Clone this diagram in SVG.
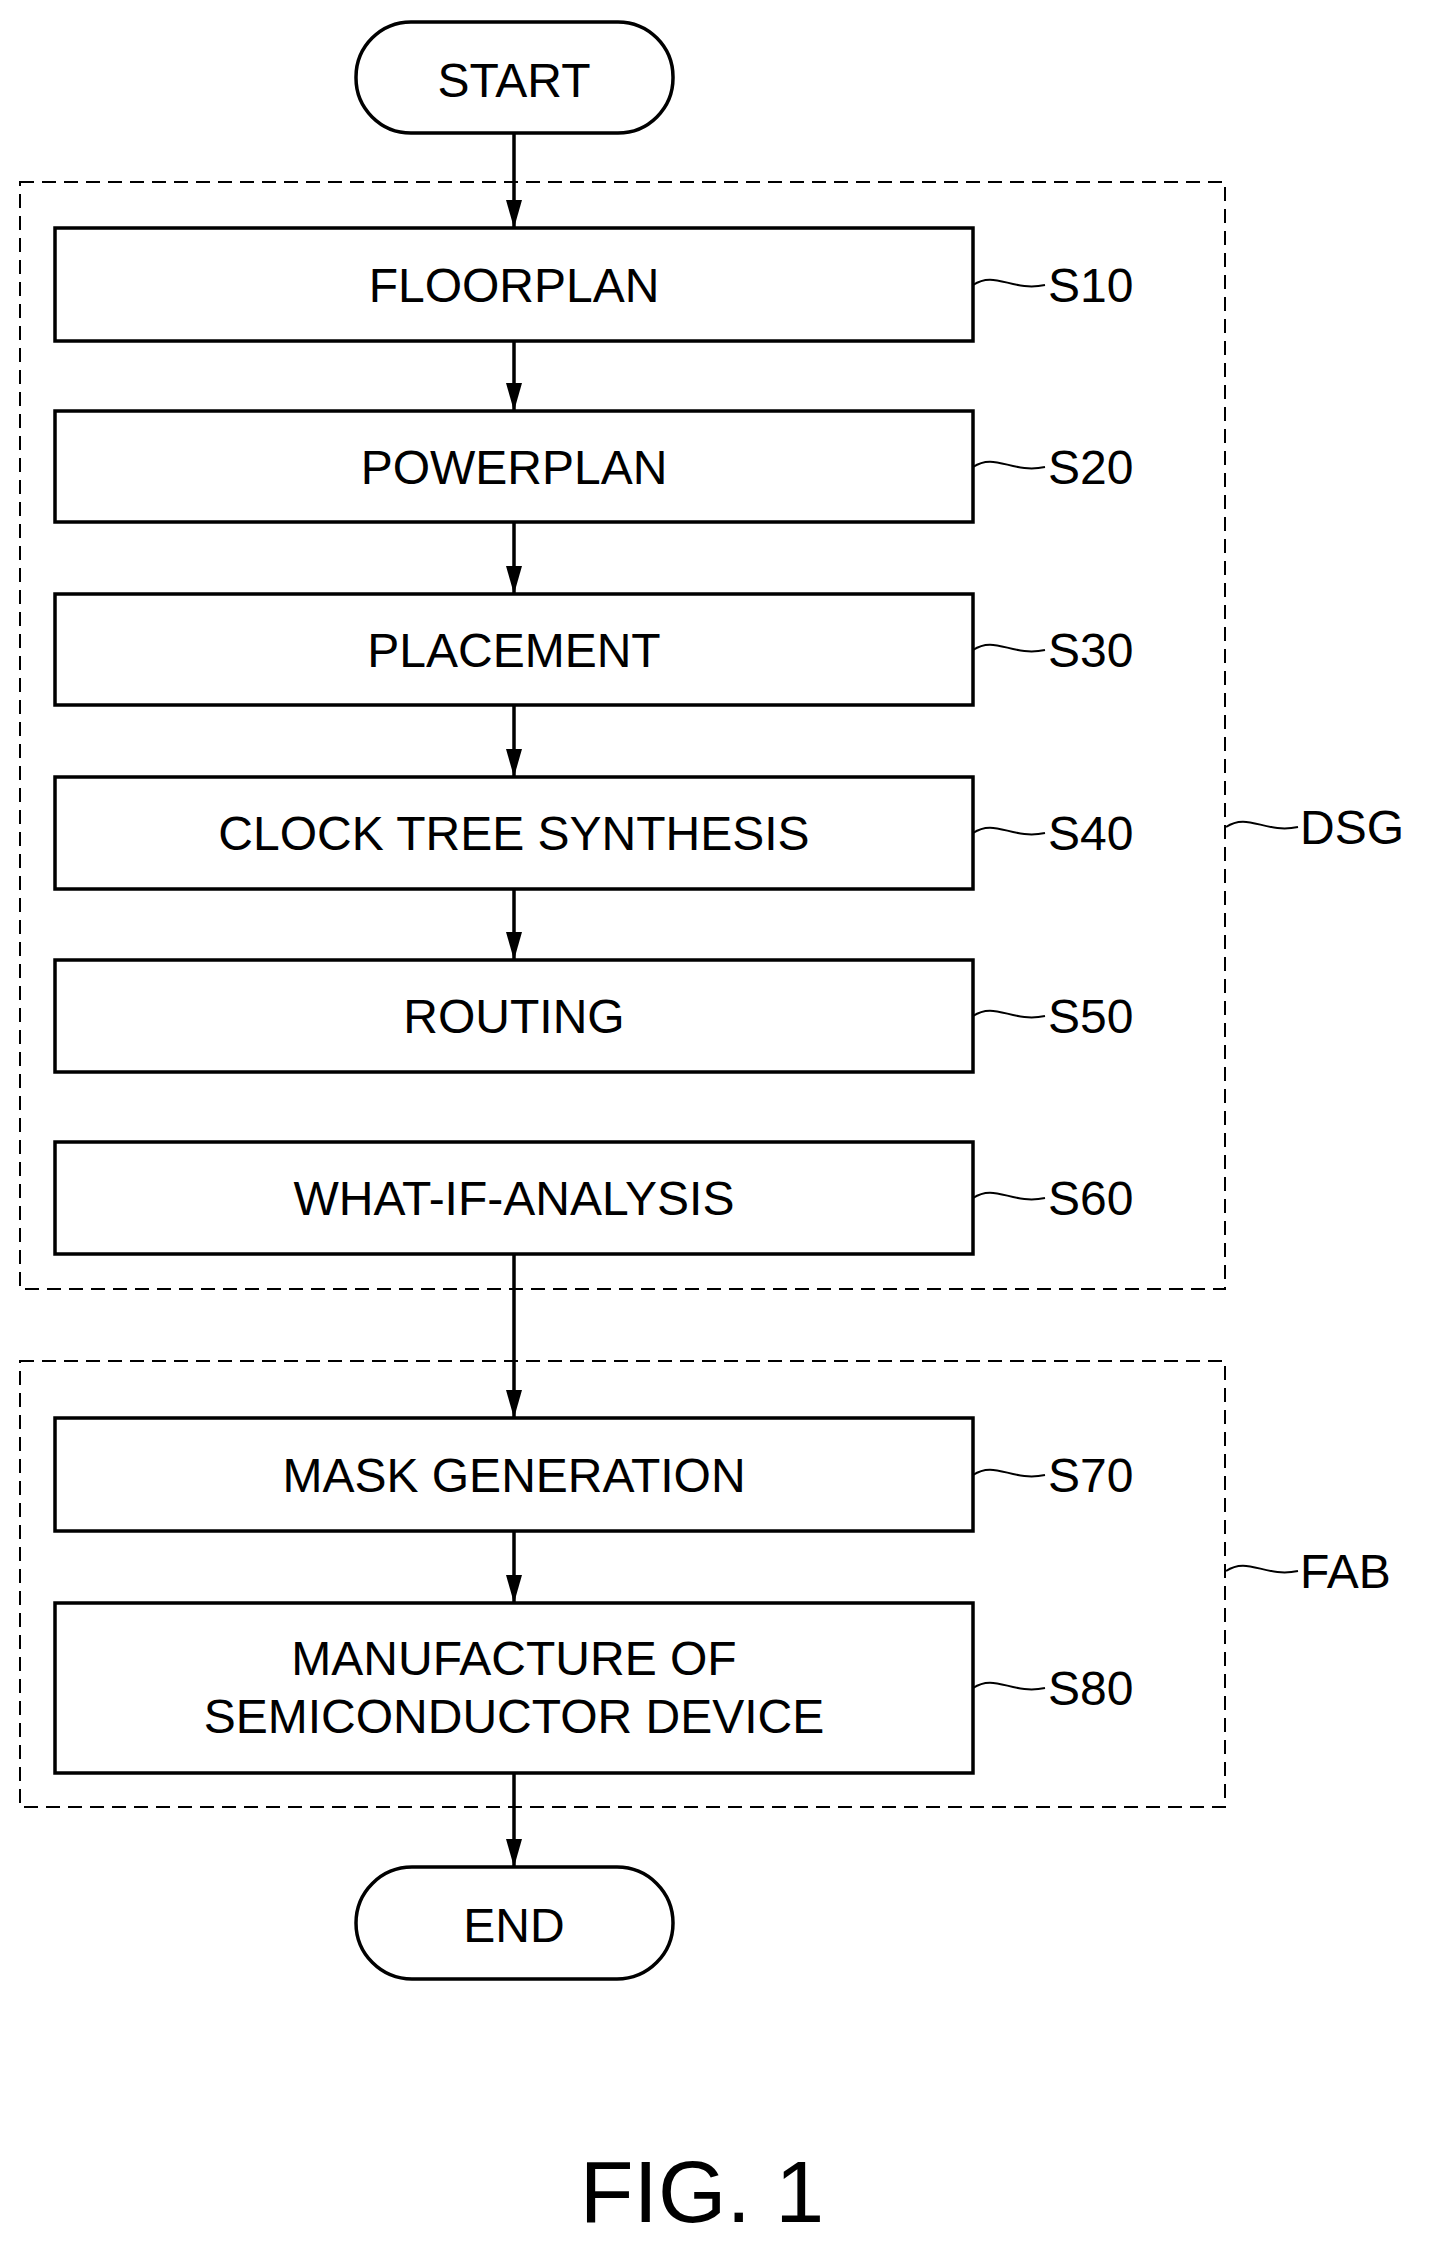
<svg xmlns="http://www.w3.org/2000/svg" width="1431" height="2250" viewBox="0 0 1431 2250">
<style>
.b{fill:#fff;stroke:#000;stroke-width:3.5}
.d{fill:none;stroke:#000;stroke-width:2;stroke-dasharray:14 8}
.t{font-family:"Liberation Sans",Arial,sans-serif;font-size:48px;text-anchor:middle;fill:#000}
.l{font-family:"Liberation Sans",Arial,sans-serif;font-size:48px;fill:#000}
.w{fill:none;stroke:#000;stroke-width:2}
.c{stroke:#000;stroke-width:3.5;fill:none;marker-end:url(#a)}
</style>
<defs><marker id="a" markerUnits="userSpaceOnUse" viewBox="0 0 28 16" markerWidth="28" markerHeight="16" refX="28" refY="8" orient="auto"><path d="M0,0 L28,8 L0,16 Z" fill="#000"/></marker></defs>
<rect id="DSG" class="d" x="20" y="182" width="1205" height="1107"/>
<rect id="FAB" class="d" x="20" y="1361" width="1205" height="446"/>
<g id="connectors">
<line class="c" x1="514" y1="133" x2="514" y2="228"/>
<line class="c" x1="514" y1="341" x2="514" y2="411"/>
<line class="c" x1="514" y1="522" x2="514" y2="594"/>
<line class="c" x1="514" y1="705" x2="514" y2="777"/>
<line class="c" x1="514" y1="889" x2="514" y2="960"/>
<line class="c" x1="514" y1="1254" x2="514" y2="1418"/>
<line class="c" x1="514" y1="1531" x2="514" y2="1603"/>
<line class="c" x1="514" y1="1773" x2="514" y2="1867"/>
</g>
<g id="start"><rect class="b" x="356" y="22" width="317" height="111" rx="55"/><text class="t" x="514" y="97">START</text></g>
<g id="s10"><rect class="b" x="55" y="228" width="918" height="113"/><text class="t" x="514" y="302">FLOORPLAN</text><path class="w" d="M973,285 C995,270 1012,292 1045,285"/><text class="l" x="1048" y="302">S10</text></g>
<g id="s20"><rect class="b" x="55" y="411" width="918" height="111"/><text class="t" x="514" y="484">POWERPLAN</text><path class="w" d="M973,467 C995,452 1012,474 1045,467"/><text class="l" x="1048" y="484">S20</text></g>
<g id="s30"><rect class="b" x="55" y="594" width="918" height="111"/><text class="t" x="514" y="667">PLACEMENT</text><path class="w" d="M973,650 C995,635 1012,657 1045,650"/><text class="l" x="1048" y="667">S30</text></g>
<g id="s40"><rect class="b" x="55" y="777" width="918" height="112"/><text class="t" x="514" y="850">CLOCK TREE SYNTHESIS</text><path class="w" d="M973,833 C995,818 1012,840 1045,833"/><text class="l" x="1048" y="850">S40</text></g>
<g id="s50"><rect class="b" x="55" y="960" width="918" height="112"/><text class="t" x="514" y="1033">ROUTING</text><path class="w" d="M973,1016 C995,1001 1012,1023 1045,1016"/><text class="l" x="1048" y="1033">S50</text></g>
<g id="s60"><rect class="b" x="55" y="1142" width="918" height="112"/><text class="t" x="514" y="1215">WHAT-IF-ANALYSIS</text><path class="w" d="M973,1198 C995,1183 1012,1205 1045,1198"/><text class="l" x="1048" y="1215">S60</text></g>
<g id="s70"><rect class="b" x="55" y="1418" width="918" height="113"/><text class="t" x="514" y="1492">MASK GENERATION</text><path class="w" d="M973,1475 C995,1460 1012,1482 1045,1475"/><text class="l" x="1048" y="1492">S70</text></g>
<g id="s80"><rect class="b" x="55" y="1603" width="918" height="170"/><text class="t" x="514" y="1675">MANUFACTURE OF</text><text class="t" x="514" y="1733">SEMICONDUCTOR DEVICE</text><path class="w" d="M973,1688 C995,1673 1012,1695 1045,1688"/><text class="l" x="1048" y="1705">S80</text></g>
<g id="end"><rect class="b" x="356" y="1867" width="317" height="112" rx="56"/><text class="t" x="514" y="1942">END</text></g>
<g id="labels"><path class="w" d="M1226,827 C1248,812 1265,834 1298,827"/><text class="l" x="1300" y="844">DSG</text>
<path class="w" d="M1226,1571 C1248,1556 1265,1578 1298,1571"/><text class="l" x="1300" y="1588">FAB</text></g>
<text class="t" x="702" y="2222" style="font-size:88px">FIG. 1</text>
</svg>
